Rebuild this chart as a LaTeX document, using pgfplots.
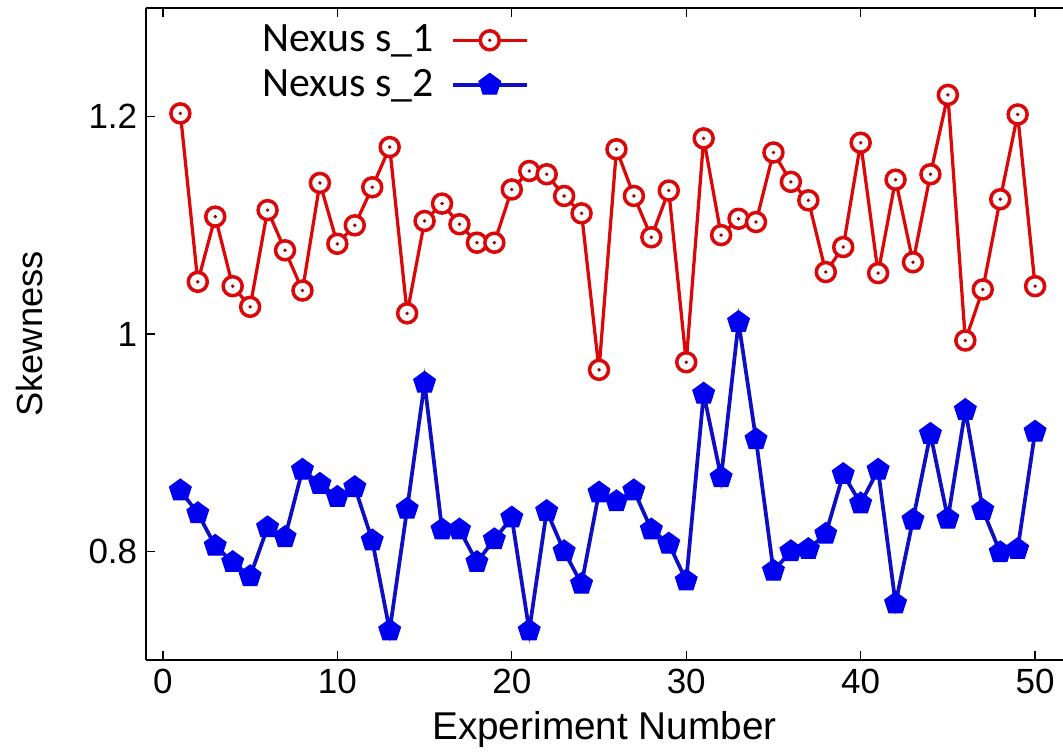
\documentclass[border=0pt]{standalone}
\usepackage{fontspec}
\setmainfont{Liberation Sans}
\newfontfamily\carlito{Carlito}
\usepackage{pgfplots}
\pgfplotsset{compat=1.18}
\usepackage{pgfplotstable}

\definecolor{sred}{RGB}{218,8,8}
\definecolor{sblueline}{RGB}{14,14,196}
\definecolor{sbluefill}{RGB}{0,0,240}

% circle with a small dot in the middle
\pgfdeclareplotmark{odot}{%
  \pgfpathcircle{\pgfpointorigin}{\pgfplotmarksize}%
  \pgfusepathqfillstroke
  \begin{pgfscope}
  \pgfpathcircle{\pgfpointorigin}{0.2\pgfplotmarksize}%
  \pgfsetfillcolor{sred!70!black}%
  \pgfusepathqfill
  \end{pgfscope}
}

\pgfplotstableread{
x s1 s2
1 1.203 0.856
2 1.048 0.835
3 1.108 0.805
4 1.044 0.790
5 1.025 0.777
6 1.114 0.822
7 1.077 0.813
8 1.040 0.875
9 1.139 0.862
10 1.083 0.850
11 1.100 0.859
12 1.135 0.810
13 1.172 0.727
14 1.019 0.839
15 1.104 0.955
16 1.120 0.820
17 1.101 0.820
18 1.084 0.790
19 1.084 0.811
20 1.133 0.831
21 1.150 0.727
22 1.147 0.837
23 1.127 0.800
24 1.111 0.770
25 0.967 0.854
26 1.170 0.846
27 1.127 0.856
28 1.089 0.820
29 1.132 0.807
30 0.974 0.773
31 1.180 0.945
32 1.091 0.868
33 1.106 1.011
34 1.103 0.903
35 1.167 0.782
36 1.140 0.800
37 1.123 0.802
38 1.057 0.816
39 1.080 0.871
40 1.176 0.844
41 1.056 0.875
42 1.142 0.752
43 1.066 0.829
44 1.147 0.908
45 1.220 0.830
46 0.994 0.930
47 1.041 0.838
48 1.124 0.799
49 1.202 0.802
50 1.044 0.910
}\skewdata

\begin{document}
\begin{tikzpicture}
\useasboundingbox (-58.4pt,-37.2pt) rectangle (366.8pt,264pt);
\begin{axis}[
  scale only axis,
  width=366.8pt, height=260.8pt,
  xmin=-0.97, xmax=51.6,
  ymin=0.7, ymax=1.3,
  axis x line=box, axis y line=left,
  y axis line style={-},
  axis line style={line width=0.6pt},
  xtick={0,10,20,30,40,50},
  ytick={0.8,1,1.2},
  tick align=inside,
  major tick length=3.5pt,
  tick style={line width=0.5pt, black},
  ticklabel style={font=\fontsize{14}{16}\selectfont},
  /pgf/number format/assume math mode=true,
  xlabel={Experiment Number},
  ylabel={Skewness},
  xlabel style={font=\fontsize{15.5}{18}\selectfont, at={(axis description cs:0.5,0)}, anchor=base, yshift=-32pt},
  ylabel style={font=\fontsize{14.5}{17}\selectfont, at={(axis description cs:0,0.5)}, anchor=center, yshift=46.4pt},
  legend style={draw=none, fill=none, font=\carlito\fontsize{16.7}{19}\selectfont,
    at={(axis description cs:0.426,0.99)}, anchor=north east, row sep=1.5pt, column sep=5pt},
  legend cell align=right,
  legend plot pos=right,
  legend image code/.code={%
    \draw[mark repeat=2,mark phase=2,#1] plot coordinates {(0cm,0cm) (0.52cm,0cm) (1.04cm,0cm)};},
]
\addplot[sred, line width=1.3pt, mark=odot, mark size=3.8pt,
  mark options={fill=white, line width=1.4pt}]
  table[x=x, y=s1] {\skewdata};
\addlegendentry{Nexus s\_1}
\addplot[sblueline, line width=1.5pt, mark=pentagon*, mark size=4.6pt,
  mark options={fill=sbluefill, draw=sbluefill, line width=0.4pt}]
  table[x=x, y=s2] {\skewdata};
\addlegendentry{Nexus s\_2}
\end{axis}
\end{tikzpicture}
\end{document}
